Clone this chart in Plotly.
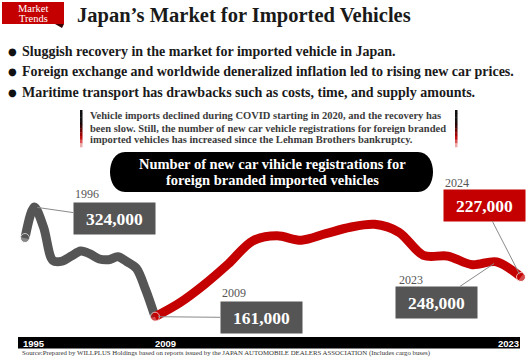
import plotly.graph_objects as go

# ---------------- data ----------------
years_gray = list(range(1995, 2010))
values_gray = [281, 324, 296, 250, 249, 256, 263, 259, 252, 251, 255, 248, 239, 209, 172]  # thousands
years_red = list(range(2009, 2025))
values_red = [172, 191, 216, 245, 277, 284, 278, 287, 296, 300, 289, 257, 256, 244, 248, 227]  # thousands

callout_years = [1996, 2009, 2023, 2024]
callout_labels = ["324,000", "161,000", "248,000", "227,000"]
axis_tick_labels = ["1995", "2009", "2023"]

title = "Japan’s Market for Imported Vehicles"
bullets = [
    "Sluggish recovery in the market for imported vehicle in Japan.",
    "Foreign exchange and worldwide deneralized inflation led to rising new car prices.",
    "Maritime transport has drawbacks such as costs, time, and supply amounts.",
]
note_lines = [
    "Vehicle imports declined during COVID starting in 2020, and the recovery has",
    "been slow. Still, the number of new car vehicle registrations for foreign branded",
    "imported vehicles has increased since the Lehman Brothers bankruptcy.",
]
pill_lines = ["Number of new car vihicle registrations for", "foreign branded imported vehicles"]
source = ("Source:Prepared by WILLPLUS Holdings based on reports issued by the JAPAN AUTOMOBILE "
          "DEALERS ASSOCIATION (Includes cargo buses)")

# ---------------- layout helpers ----------------
W, H = 526, 357
SERIF = "Liberation Serif, Times New Roman, serif"
SANS = "Liberation Sans, Arial, sans-serif"
RED = "#c40000"
GRAY = "#555555"


def fx(p):
    return p / W


def fy(p):
    return 1 - p / H


fig = go.Figure()

# gray segment (1995-2009), compressed axis
fig.add_trace(go.Scatter(
    x=years_gray, y=values_gray, xaxis="x", yaxis="y", mode="lines+markers",
    line=dict(color=GRAY, width=9, shape="spline", smoothing=0.9),
    marker=dict(color=GRAY, size=[9] + [0] * (len(years_gray) - 1)),
    hoverinfo="skip", showlegend=False))
# red segment (2009-2024)
fig.add_trace(go.Scatter(
    x=years_red, y=values_red, xaxis="x2", yaxis="y", mode="lines+markers",
    line=dict(color=RED, width=9, shape="spline", smoothing=0.9),
    marker=dict(color=RED, size=[9] + [0] * (len(years_red) - 2) + [9]),
    hoverinfo="skip", showlegend=False))

shapes = []
annotations = []

# Market Trends tag
shapes.append(dict(type="path", xref="paper", yref="paper",
                   path=f"M {fx(55)} {fy(24)} L {fx(64)} {fy(24)} L {fx(62)} {fy(28)} Z",
                   fillcolor="#3a0000", line=dict(width=0), layer="above"))
shapes.append(dict(type="rect", xref="paper", yref="paper", x0=fx(2), x1=fx(64), y0=fy(2), y1=fy(24),
                   fillcolor=RED, line=dict(width=0), layer="above"))
for txt, yy in [("Market", 8.5), ("Trends", 18)]:
    annotations.append(dict(text=txt, x=fx(33), y=fy(yy), xref="paper", yref="paper", showarrow=False,
                            xanchor="center", yanchor="middle",
                            font=dict(family=SERIF, size=10.5, color="white")))

# Title
annotations.append(dict(text=f"<b>{title}</b>", x=fx(75), y=fy(15.5), xref="paper", yref="paper",
                        showarrow=False, xanchor="left", yanchor="middle",
                        font=dict(family=SERIF, size=20.5, color="#1a1a1a")))

# Bullets
for i, b in enumerate(bullets):
    yy = [51.5, 72, 93][i]
    annotations.append(dict(text="●", x=fx(12), y=fy(yy), xref="paper", yref="paper", showarrow=False,
                            xanchor="center", yanchor="middle",
                            font=dict(family="DejaVu Sans", size=10, color="#111")))
    annotations.append(dict(text=f"<b>{b}</b>", x=fx(20), y=fy(yy), xref="paper", yref="paper",
                            showarrow=False, xanchor="left", yanchor="middle",
                            font=dict(family=SERIF, size=14, color="#1a1a1a")))

# gradient bars around note
grad = ["#111111", "#111111", "#111111", "#1a0808", "#3a0606", "#6a0505", "#9a0606",
        "#c01010", "#d85050", "#ecaaaa"]
y0, y1 = 110, 147
step = (y1 - y0) / len(grad)
for xb in (80, 455):
    for k, c in enumerate(grad):
        shapes.append(dict(type="rect", xref="paper", yref="paper", x0=fx(xb), x1=fx(xb + 2.5),
                           y0=fy(y0 + k * step), y1=fy(y0 + (k + 1) * step + 0.3),
                           fillcolor=c, line=dict(width=0)))

# note text
for i, ln in enumerate(note_lines):
    annotations.append(dict(text=f"<b>{ln}</b>", x=fx(88), y=fy(116 + 12 * i), xref="paper", yref="paper",
                            showarrow=False, xanchor="left", yanchor="middle",
                            font=dict(family=SERIF, size=10.5, color="#3c3c3c")))

# black pill
r = 17
L, R, T, B = 108, 435, 152, 192
path = (f"M {fx(L + r)} {fy(T)} L {fx(R - r)} {fy(T)} "
        f"C {fx(R + 3)} {fy(T)} {fx(R + 3)} {fy(B)} {fx(R - r)} {fy(B)} "
        f"L {fx(L + r)} {fy(B)} "
        f"C {fx(L - 3)} {fy(B)} {fx(L - 3)} {fy(T)} {fx(L + r)} {fy(T)} Z")
shapes.append(dict(type="path", xref="paper", yref="paper", path=path, fillcolor="#000000",
                   line=dict(width=0)))
for i, ln in enumerate(pill_lines):
    annotations.append(dict(text=f"<b>{ln}</b>", x=fx(272), y=fy(164 + 16 * i), xref="paper", yref="paper",
                            showarrow=False, xanchor="center", yanchor="middle",
                            font=dict(family=SERIF, size=14.5, color="white")))

# bottom axis bar
shapes.append(dict(type="rect", xref="paper", yref="paper", x0=fx(18), x1=fx(520), y0=fy(337), y1=fy(348.5),
                   fillcolor="#000000", line=dict(width=0)))
for lab, xl in zip(axis_tick_labels, [21, 153, 496]):
    annotations.append(dict(text=f"<b>{lab}</b>", x=fx(xl), y=fy(343), xref="paper", yref="paper",
                            showarrow=False, xanchor="left", yanchor="middle",
                            font=dict(family=SANS, size=9.5, color="white")))

# source
annotations.append(dict(text=source, x=fx(20), y=fy(352.5), xref="paper", yref="paper", showarrow=False,
                        xanchor="left", yanchor="middle", font=dict(family=SERIF, size=6.8, color="#333")))

# callouts
year_to_val = dict(zip(years_gray, values_gray))
year_to_val.update(dict(zip(years_red, values_red)))
box_colors = [GRAY, GRAY, GRAY, RED]
xrefs = ["x", "x2", "x2", "x2"]
offsets = [(80, 11.5), (106, 1), (-60.5, 40.5), (-37, -72)]
year_pos = [(73, 194), (220, 293), (397, 280), (443, 183)]
for yr, lab, col, xr, (ax, ay), (lx, ly) in zip(callout_years, callout_labels, box_colors, xrefs, offsets,
                                                year_pos):
    annotations.append(dict(text=f"<b>{lab}</b>", x=yr, y=year_to_val[yr], xref=xr, yref="y",
                            showarrow=True, arrowhead=0, arrowwidth=1, arrowcolor="#8a8a8a",
                            ax=ax, ay=ay, standoff=3, bgcolor=col, width=79, height=29, borderpad=1,
                            font=dict(family=SERIF, size=17.5, color="white"), align="center"))
    annotations.append(dict(text=str(yr), x=fx(lx), y=fy(ly), xref="paper", yref="paper", showarrow=False,
                            xanchor="left", yanchor="middle", font=dict(family=SERIF, size=12, color="#555")))

# axes: px mapping  gray 1995->25px, 2009->155px ; red 2009->155px, 2024->521px
g_scale = (155 - 25) / 14
r_scale = (521 - 155) / 15
y_scale = (277 - 207) / (324 - 227)
fig.update_layout(
    width=W, height=H, margin=dict(l=0, r=0, t=0, b=0),
    paper_bgcolor="white", plot_bgcolor="white",
    xaxis=dict(domain=[0, 1], range=[1995 - 25 / g_scale, 1995 + (W - 25) / g_scale], visible=False),
    xaxis2=dict(domain=[0, 1], range=[2009 - 155 / r_scale, 2009 + (W - 155) / r_scale], visible=False,
                overlaying="x"),
    yaxis=dict(domain=[0, 1], range=[324 - (H - 207) / y_scale, 324 + 207 / y_scale], visible=False),
    shapes=shapes, annotations=annotations,
)

fig.write_html("out.html", config={"displayModeBar": False},
               post_script="document.body.style.margin='0px';document.body.style.overflow='hidden';")
